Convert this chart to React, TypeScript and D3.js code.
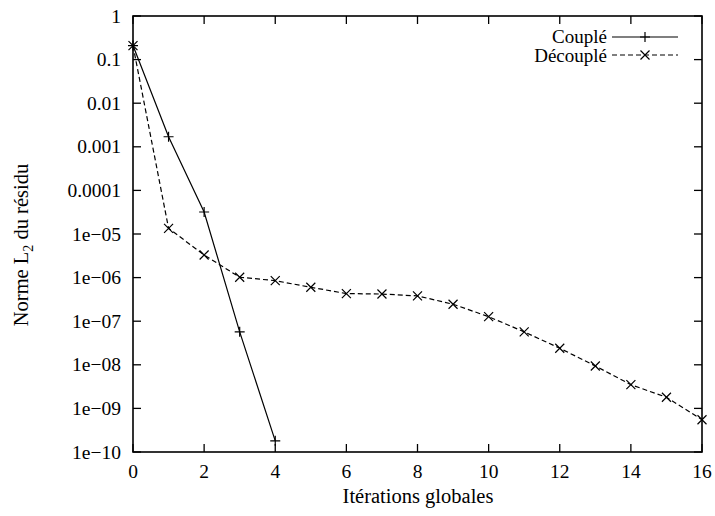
import React from "react";
import * as d3 from "d3";

const iterCouple = [0, 1, 2, 3, 4];
const valCouple = [0.21, 0.0017, 3.2e-5, 5.7e-8, 1.8e-10];
const iterDecouple = [0, 1, 2, 3, 4, 5, 6, 7, 8, 9, 10, 11, 12, 13, 14, 15, 16];
const valDecouple = [0.21, 1.35e-5, 3.3e-6, 1.02e-6, 8.5e-7, 6.0e-7, 4.3e-7, 4.2e-7, 3.8e-7, 2.45e-7, 1.27e-7, 5.7e-8, 2.4e-8, 9.4e-9, 3.5e-9, 1.8e-9, 5.5e-10];
const xTicks = [0, 2, 4, 6, 8, 10, 12, 14, 16];
const yTicks = [1, 0.1, 0.01, 0.001, 0.0001, 1e-5, 1e-6, 1e-7, 1e-8, 1e-9, 1e-10];
const yTickLabels = ["1", "0.1", "0.01", "0.001", "0.0001", "1e\u221205", "1e\u221206", "1e\u221207", "1e\u221208", "1e\u221209", "1e\u221210"];
const seriesNames = ["Couplé", "Découplé"];

const W = 715, H = 516;
const L = 133, R = 702, T = 16, B = 452;
const FONT = "'Liberation Serif', 'Times New Roman', serif";

export default function App() {
  const x = d3.scaleLinear().domain([0, 16]).range([L, R]);
  const y = d3.scaleLog().domain([1e-10, 1]).range([B, T]);
  const line = d3.line<[number, number]>().x(d => x(d[0])).y(d => y(d[1]));
  const cData: [number, number][] = iterCouple.map((v, i) => [v, valCouple[i]]);
  const dData: [number, number][] = iterDecouple.map((v, i) => [v, valDecouple[i]]);
  const tl = 8;
  const plus = (cx: number, cy: number, k: string) => (
    <path key={k} d={`M${cx - 5},${cy}H${cx + 5}M${cx},${cy - 5}V${cy + 5}`} stroke="#000" strokeWidth={1.2} fill="none" />
  );
  const cross = (cx: number, cy: number, k: string) => (
    <path key={k} d={`M${cx - 4.5},${cy - 4.5}L${cx + 4.5},${cy + 4.5}M${cx - 4.5},${cy + 4.5}L${cx + 4.5},${cy - 4.5}`} stroke="#000" strokeWidth={1.2} fill="none" />
  );
  return (
    <svg width={W} height={H} style={{ position: "absolute", left: 0, top: 0, background: "#fff" }} fontFamily={FONT}>
      <rect x={0} y={0} width={W} height={H} fill="#fff" />
      {xTicks.map(t => (
        <g key={"xt" + t}>
          <line x1={x(t)} x2={x(t)} y1={B} y2={B - tl} stroke="#000" strokeWidth={1.3} />
          <line x1={x(t)} x2={x(t)} y1={T} y2={T + tl} stroke="#000" strokeWidth={1.3} />
          <text x={x(t)} y={478} fontSize={19.5} textAnchor="middle" fill="#000">{t}</text>
        </g>
      ))}
      {yTicks.map((t, i) => (
        <g key={"yt" + i}>
          <line x1={L} x2={L + tl} y1={y(t)} y2={y(t)} stroke="#000" strokeWidth={1.3} />
          <line x1={R} x2={R - tl} y1={y(t)} y2={y(t)} stroke="#000" strokeWidth={1.3} />
          <text x={121} y={y(t) + 6.5} fontSize={19.5} textAnchor="end" fill="#000">{yTickLabels[i]}</text>
        </g>
      ))}
      <rect x={L} y={T} width={R - L} height={B - T} fill="none" stroke="#000" strokeWidth={1.6} />
      <path d={line(cData) || ""} fill="none" stroke="#000" strokeWidth={1.2} />
      <path d={line(dData) || ""} fill="none" stroke="#000" strokeWidth={1.2} strokeDasharray="5,3" />
      {cData.map((d, i) => plus(x(d[0]), y(d[1]), "cp" + i))}
      {dData.map((d, i) => cross(x(d[0]), y(d[1]), "dp" + i))}
      <text x={607} y={43} fontSize={19} textAnchor="end" fill="#000">{seriesNames[0]}</text>
      <line x1={612} x2={678} y1={37} y2={37} stroke="#000" strokeWidth={1.2} />
      {plus(645, 37, "lp")}
      <text x={607} y={62} fontSize={19} textAnchor="end" fill="#000">{seriesNames[1]}</text>
      <line x1={612} x2={678} y1={55} y2={55} stroke="#000" strokeWidth={1.2} strokeDasharray="5,3" />
      {cross(645, 55, "lx")}
      <text x={418} y={503} fontSize={20.5} textAnchor="middle" fill="#000">Itérations globales</text>
      <text transform={`translate(28,245) rotate(-90)`} fontSize={20.5} textAnchor="middle" fill="#000">
        Norme L<tspan fontSize={14} dy={5}>2</tspan><tspan dy={-5}> du résidu</tspan>
      </text>
    </svg>
  );
}
